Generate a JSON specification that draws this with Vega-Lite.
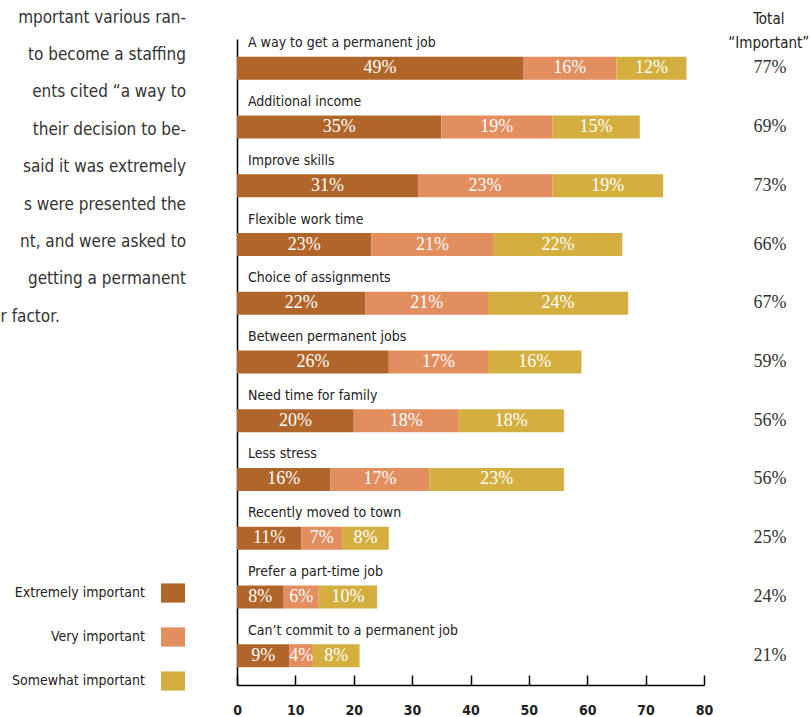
{
  "$schema": "https://vega.github.io/schema/vega-lite/v6.json",
  "width": 467,
  "height": 646,
  "autosize": {"type": "none"},
  "padding": {"left": 237, "top": 39, "right": 106, "bottom": 32},
  "background": "white",
  "title": {
    "text": ["mportant various ran-", "to become a staffing", "ents cited “a way to", "their decision to be-", "said it was extremely", "s were presented the", "nt, and were asked to", "getting a permanent", "r factor.\u00a0\u00a0\u00a0\u00a0\u00a0\u00a0\u00a0\u00a0\u00a0\u00a0\u00a0\u00a0\u00a0\u00a0\u00a0\u00a0\u00a0\u00a0\u00a0\u00a0\u00a0\u00a0\u00a0\u00a0\u00a0\u00a0\u200b"],
    "anchor": "start",
    "frame": "group",
    "align": "right",
    "baseline": "top",
    "dx": -51,
    "dy": 314,
    "offset": 0,
    "font": "DejaVu Sans Condensed, Liberation Sans Narrow, Roboto, sans-serif",
    "fontSize": 17,
    "fontWeight": "normal",
    "color": "#333333",
    "lineHeight": 37.4
  },
  "datasets": {
    "segments": [
      {"category": "A way to get a permanent job", "level": "Extremely important", "k": 1, "value": 49},
      {"category": "A way to get a permanent job", "level": "Very important", "k": 2, "value": 16},
      {"category": "A way to get a permanent job", "level": "Somewhat important", "k": 3, "value": 12},
      {"category": "Additional income", "level": "Extremely important", "k": 1, "value": 35},
      {"category": "Additional income", "level": "Very important", "k": 2, "value": 19},
      {"category": "Additional income", "level": "Somewhat important", "k": 3, "value": 15},
      {"category": "Improve skills", "level": "Extremely important", "k": 1, "value": 31},
      {"category": "Improve skills", "level": "Very important", "k": 2, "value": 23},
      {"category": "Improve skills", "level": "Somewhat important", "k": 3, "value": 19},
      {"category": "Flexible work time", "level": "Extremely important", "k": 1, "value": 23},
      {"category": "Flexible work time", "level": "Very important", "k": 2, "value": 21},
      {"category": "Flexible work time", "level": "Somewhat important", "k": 3, "value": 22},
      {"category": "Choice of assignments", "level": "Extremely important", "k": 1, "value": 22},
      {"category": "Choice of assignments", "level": "Very important", "k": 2, "value": 21},
      {"category": "Choice of assignments", "level": "Somewhat important", "k": 3, "value": 24},
      {"category": "Between permanent jobs", "level": "Extremely important", "k": 1, "value": 26},
      {"category": "Between permanent jobs", "level": "Very important", "k": 2, "value": 17},
      {"category": "Between permanent jobs", "level": "Somewhat important", "k": 3, "value": 16},
      {"category": "Need time for family", "level": "Extremely important", "k": 1, "value": 20},
      {"category": "Need time for family", "level": "Very important", "k": 2, "value": 18},
      {"category": "Need time for family", "level": "Somewhat important", "k": 3, "value": 18},
      {"category": "Less stress", "level": "Extremely important", "k": 1, "value": 16},
      {"category": "Less stress", "level": "Very important", "k": 2, "value": 17},
      {"category": "Less stress", "level": "Somewhat important", "k": 3, "value": 23},
      {"category": "Recently moved to town", "level": "Extremely important", "k": 1, "value": 11},
      {"category": "Recently moved to town", "level": "Very important", "k": 2, "value": 7},
      {"category": "Recently moved to town", "level": "Somewhat important", "k": 3, "value": 8},
      {"category": "Prefer a part-time job", "level": "Extremely important", "k": 1, "value": 8},
      {"category": "Prefer a part-time job", "level": "Very important", "k": 2, "value": 6},
      {"category": "Prefer a part-time job", "level": "Somewhat important", "k": 3, "value": 10},
      {"category": "Can’t commit to a permanent job", "level": "Extremely important", "k": 1, "value": 9},
      {"category": "Can’t commit to a permanent job", "level": "Very important", "k": 2, "value": 4},
      {"category": "Can’t commit to a permanent job", "level": "Somewhat important", "k": 3, "value": 8}
    ],
    "totals": [
      {"category": "A way to get a permanent job", "total": 77},
      {"category": "Additional income", "total": 69},
      {"category": "Improve skills", "total": 73},
      {"category": "Flexible work time", "total": 66},
      {"category": "Choice of assignments", "total": 67},
      {"category": "Between permanent jobs", "total": 59},
      {"category": "Need time for family", "total": 56},
      {"category": "Less stress", "total": 56},
      {"category": "Recently moved to town", "total": 25},
      {"category": "Prefer a part-time job", "total": 24},
      {"category": "Can’t commit to a permanent job", "total": 21}
    ]
  },
  "layer": [
    {
      "data": {"name": "segments"},
      "transform": [
        {"stack": "value", "groupby": ["category"], "sort": [{"field": "k"}], "as": ["v0", "v1"]}
      ],
      "mark": {"type": "bar", "height": 23},
      "encoding": {
        "y": {
          "field": "category", "type": "nominal",
          "scale": {"domain": ["A way to get a permanent job", "Additional income", "Improve skills", "Flexible work time", "Choice of assignments", "Between permanent jobs", "Need time for family", "Less stress", "Recently moved to town", "Prefer a part-time job", "Can’t commit to a permanent job"], "paddingInner": 0, "paddingOuter": 0},
          "axis": {"labels": false, "ticks": false, "title": null, "domainColor": "#000000", "domainWidth": 1.5, "grid": false}
        },
        "x": {
          "field": "v0", "type": "quantitative",
          "scale": {"domain": [0, 80], "nice": false, "zero": true},
          "axis": {"values": [0, 10, 20, 30, 40, 50, 60, 70, 80], "tickSize": -10, "tickColor": "#000000", "tickWidth": 1.5, "domainColor": "#000000", "domainWidth": 1.5, "labelPadding": 28, "labelFlush": false, "labelFont": "DejaVu Sans Condensed, Liberation Sans Narrow, Roboto, sans-serif", "labelFontSize": 14, "labelFontWeight": "bold", "labelColor": "#222222", "grid": false, "title": null}
        },
        "x2": {"field": "v1"},
        "color": {
          "field": "level", "type": "nominal",
          "scale": {"domain": ["Extremely important", "Very important", "Somewhat important"], "range": ["#B0662A", "#E28E5F", "#D4AF40"]},
          "legend": {
            "title": null, "orient": "none", "legendX": -76, "legendY": 542, "direction": "vertical",
            "symbolType": "M-1,-0.8H1V0.8H-1Z", "symbolSize": 576, "symbolStrokeWidth": 0, "symbolOpacity": 1,
            "labelAlign": "right", "labelOffset": -40, "rowPadding": 22,
            "labelFont": "DejaVu Sans Condensed, Liberation Sans Narrow, Roboto, sans-serif", "labelFontSize": 14, "labelColor": "#222222", "labelLimit": 300
          }
        }
      }
    },
    {
      "data": {"name": "segments"},
      "transform": [
        {"stack": "value", "groupby": ["category"], "sort": [{"field": "k"}], "as": ["v0", "v1"]},
        {"calculate": "(datum.v0 + datum.v1) / 2", "as": "mid"},
        {"calculate": "datum.value + '%'", "as": "label"}
      ],
      "mark": {"type": "text", "color": "white", "font": "Liberation Serif, DejaVu Serif, serif", "fontSize": 18, "baseline": "middle", "align": "center"},
      "encoding": {
        "y": {"field": "category", "type": "nominal"},
        "x": {"field": "mid", "type": "quantitative"},
        "text": {"field": "label"}
      }
    },
    {
      "data": {"name": "totals"},
      "mark": {"type": "text", "align": "left", "baseline": "middle", "dx": 11, "dy": -25, "font": "DejaVu Sans Condensed, Liberation Sans Narrow, Roboto, sans-serif", "fontSize": 14, "color": "#222222"},
      "encoding": {
        "y": {"field": "category", "type": "nominal"},
        "x": {"datum": 0, "type": "quantitative"},
        "text": {"field": "category"}
      }
    },
    {
      "data": {"name": "totals"},
      "transform": [{"calculate": "datum.total + '%'", "as": "tlabel"}],
      "mark": {"type": "text", "align": "center", "baseline": "middle", "font": "Liberation Serif, DejaVu Serif, serif", "fontSize": 18, "color": "#333333"},
      "encoding": {
        "y": {"field": "category", "type": "nominal"},
        "x": {"datum": 91.3, "type": "quantitative"},
        "text": {"field": "tlabel"}
      }
    },
    {
      "data": {"name": "totals"},
      "transform": [{"filter": "datum.category === 'A way to get a permanent job'"}],
      "mark": {"type": "text", "align": "center", "baseline": "middle", "dy": -49.5, "lineHeight": 24, "font": "DejaVu Sans Condensed, Liberation Sans Narrow, Roboto, sans-serif", "fontSize": 15, "color": "#222222", "text": ["Total", "“Important”"]},
      "encoding": {
        "y": {"field": "category", "type": "nominal"},
        "x": {"datum": 91.1, "type": "quantitative"}
      }
    }
  ],
  "config": {
    "view": {"stroke": null}
  }
}
